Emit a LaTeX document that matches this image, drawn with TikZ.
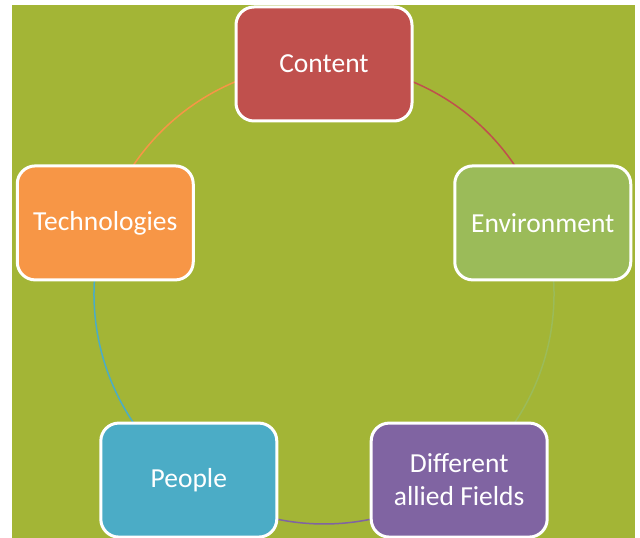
\documentclass[tikz,border=0pt]{standalone}
\usepackage{fontspec}
\setmainfont{Carlito}
\definecolor{bggreen}{RGB}{163,181,54}
\definecolor{cred}{RGB}{192,80,77}
\definecolor{cgreen}{RGB}{155,187,89}
\definecolor{cpurple}{RGB}{128,100,162}
\definecolor{cblue}{RGB}{75,172,198}
\definecolor{corange}{RGB}{247,150,70}
\begin{document}
\begin{tikzpicture}[x=1pt,y=1pt,
  cyclebox/.style={draw=white, line width=3pt, rounded corners=18pt,
    minimum width=176pt, minimum height=114pt, text=white, align=center,
    font=\fontsize{27.5}{33}\selectfont, inner sep=0pt},
  cyclearc/.style={line width=1.5pt}]
\useasboundingbox (0,0) rectangle (640,538);
\fill[white] (0,0) rectangle (640,538);
\fill[bggreen] (12,0) rectangle (635,533);
\coordinate (c) at (324,244);
% arcs
\draw[cyclearc, cred] ([shift={(90:230)}]c) arc[start angle=90, end angle=18, radius=230];
\draw[cyclearc, cgreen] ([shift={(18:230)}]c) arc[start angle=18, end angle=-54, radius=230];
\draw[cyclearc, cpurple] ([shift={(-54:230)}]c) arc[start angle=-54, end angle=-126, radius=230];
\draw[cyclearc, cblue] ([shift={(-126:230)}]c) arc[start angle=-126, end angle=-198, radius=230];
\draw[cyclearc, corange] ([shift={(162:230)}]c) arc[start angle=162, end angle=90, radius=230];
% nodes
\node[cyclebox, fill=cred] (content) at ([shift={(90:230)}]c) {Content};
\node[cyclebox, fill=cgreen] (env) at ([shift={(18:230)}]c) {Environment};
\node[cyclebox, fill=cpurple] (diff) at ([shift={(-54:230)}]c) {Different\\allied Fields};
\node[cyclebox, fill=cblue] (people) at ([shift={(-126:230)}]c) {People};
\node[cyclebox, fill=corange] (tech) at ([shift={(162:230)}]c) {Technologies};
\end{tikzpicture}
\end{document}
